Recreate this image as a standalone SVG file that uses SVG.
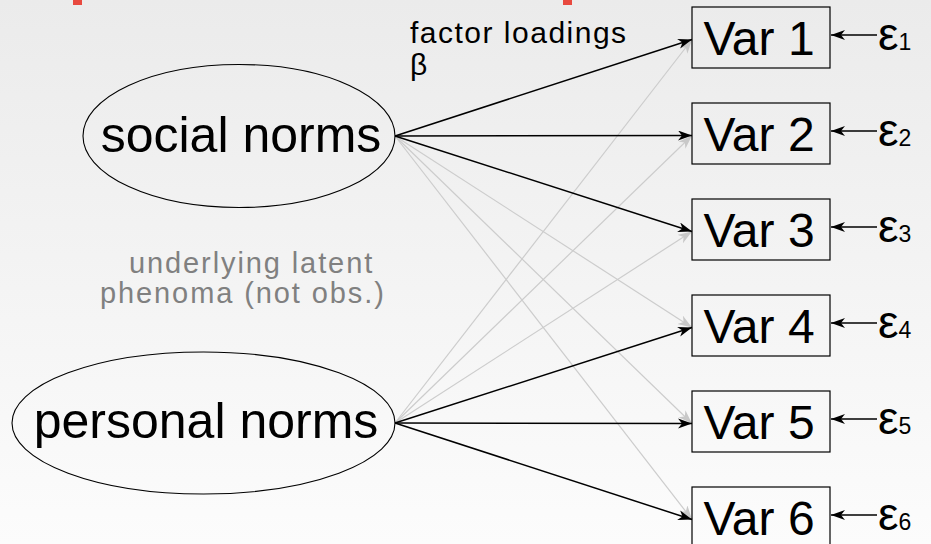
<svg xmlns="http://www.w3.org/2000/svg" width="931" height="544" viewBox="0 0 931 544">
<defs>
<linearGradient id="bg" x1="0" y1="0" x2="0" y2="1">
<stop offset="0" stop-color="#ebebeb"/>
<stop offset="1" stop-color="#fcfcfc"/>
</linearGradient>
<marker id="ah" markerUnits="userSpaceOnUse" markerWidth="16" markerHeight="12" refX="14" refY="5" orient="auto">
<path d="M0,0 L14,5 L0,10 L4,5 z" fill="#000"/>
</marker>
<marker id="ahg" markerUnits="userSpaceOnUse" markerWidth="16" markerHeight="12" refX="14" refY="5" orient="auto">
<path d="M0,0 L14,5 L0,10 L4,5 z" fill="#c8c8c8"/>
</marker>
<style>
text{font-family:"Liberation Sans",Arial,sans-serif;fill:#000}
.lat{fill:none;stroke:#000;stroke-width:1.1}
.box{fill:none;stroke:#000;stroke-width:1.2}
.big{font-size:50px;text-anchor:middle}
.var{font-size:48px;text-anchor:middle}
.eps{font-size:46px}
.sub{font-size:23px}
.note{font-size:29px;letter-spacing:1.9px;fill:#808080}
.lbl{font-size:30px;letter-spacing:1.5px}
.e{stroke:#000;stroke-width:1.5;fill:none;marker-end:url(#ah)}
.g{stroke:#cccccc;stroke-width:1.2;fill:none;marker-end:url(#ahg)}
.r{stroke:#000;stroke-width:1.3;fill:none;marker-end:url(#ah)}
</style>
</defs>
<rect width="931" height="544" fill="url(#bg)"/>
<rect x="73" y="0" width="9" height="5" fill="#e8493f"/>
<rect x="563" y="0" width="9" height="5" fill="#e8493f"/>

<g id="connectors">
<line class="g" x1="395" y1="423" x2="692" y2="39.5"/>
<line class="g" x1="395" y1="423" x2="692" y2="135.5"/>
<line class="g" x1="395" y1="423" x2="692" y2="231.5"/>
<line class="g" x1="395" y1="136" x2="692" y2="327.5"/>
<line class="g" x1="395" y1="136" x2="692" y2="423.5"/>
<line class="g" x1="395" y1="136" x2="692" y2="519.5"/>
<line class="e" x1="395" y1="136" x2="692" y2="39.5"/>
<line class="e" x1="395" y1="136" x2="692" y2="135.5"/>
<line class="e" x1="395" y1="136" x2="692" y2="231.5"/>
<line class="e" x1="395" y1="423" x2="692" y2="327.5"/>
<line class="e" x1="395" y1="423" x2="692" y2="423.5"/>
<line class="e" x1="395" y1="423" x2="692" y2="519.5"/>
<line class="r" x1="877" y1="35" x2="831" y2="35"/>
<line class="r" x1="877" y1="131" x2="831" y2="131"/>
<line class="r" x1="877" y1="227" x2="831" y2="227"/>
<line class="r" x1="877" y1="323" x2="831" y2="323"/>
<line class="r" x1="877" y1="419" x2="831" y2="419"/>
<line class="r" x1="877" y1="515" x2="831" y2="515"/>
</g>

<g id="social-norms">
<ellipse class="lat" cx="239" cy="136" rx="156" ry="71.5"/>
<text class="big" x="241" y="152">social norms</text>
</g>
<g id="personal-norms">
<ellipse class="lat" cx="203.5" cy="423" rx="191.5" ry="71"/>
<text class="big" x="206" y="438">personal norms</text>
</g>

<g id="var1"><rect class="box" x="692" y="7" width="138" height="61"/><text class="var" x="759" y="55">Var 1</text></g>
<g id="var2"><rect class="box" x="692" y="103" width="138" height="61"/><text class="var" x="759" y="151">Var 2</text></g>
<g id="var3"><rect class="box" x="692" y="199" width="138" height="61"/><text class="var" x="759" y="247">Var 3</text></g>
<g id="var4"><rect class="box" x="692" y="295" width="138" height="61"/><text class="var" x="759" y="343">Var 4</text></g>
<g id="var5"><rect class="box" x="692" y="391" width="138" height="61"/><text class="var" x="759" y="439">Var 5</text></g>
<g id="var6"><rect class="box" x="692" y="487" width="138" height="61"/><text class="var" x="759" y="535">Var 6</text></g>

<g id="eps1"><text x="878" y="50"><tspan class="eps">ε</tspan><tspan class="sub">1</tspan></text></g>
<g id="eps2"><text x="878" y="146"><tspan class="eps">ε</tspan><tspan class="sub">2</tspan></text></g>
<g id="eps3"><text x="878" y="242"><tspan class="eps">ε</tspan><tspan class="sub">3</tspan></text></g>
<g id="eps4"><text x="878" y="338"><tspan class="eps">ε</tspan><tspan class="sub">4</tspan></text></g>
<g id="eps5"><text x="878" y="434"><tspan class="eps">ε</tspan><tspan class="sub">5</tspan></text></g>
<g id="eps6"><text x="878" y="530"><tspan class="eps">ε</tspan><tspan class="sub">6</tspan></text></g>

<g id="loadings-label">
<text class="lbl" x="410" y="43">factor loadings</text>
<text class="lbl" x="410" y="75">β</text>
</g>
<g id="latent-note">
<text class="note" x="129" y="273">underlying latent</text>
<text class="note" x="100" y="303">phenoma (not obs.)</text>
</g>
</svg>
